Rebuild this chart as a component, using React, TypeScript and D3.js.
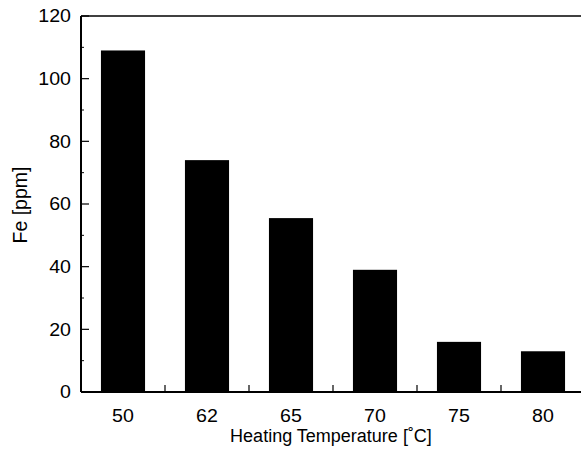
import React from "react";
import * as d3 from "d3";

const categories = ["50", "62", "65", "70", "75", "80"];
const values = [109, 74, 55.5, 39, 16, 13];
const yTicks = [0, 20, 40, 60, 80, 100, 120];
const yMinorTicks = [10, 30, 50, 70, 90, 110];

export default function App() {
  const W = 581, H = 454;
  const left = 81, top = 16, bottom = 392, right = 585;
  const x = d3.scaleBand<string>().domain(categories).range([left, right]).padding(0);
  const y = d3.scaleLinear().domain([0, 120]).range([bottom, top]);
  const bw = x.bandwidth() * 0.525;
  const font = "'Liberation Sans', Arial, Helvetica, sans-serif";
  const sep = categories.slice(1).map((c) => x(c) as number);
  const sx = 1.12;
  return (
    <svg width={W} height={H} style={{ position: "absolute", left: 0, top: 0 }}>
      <rect width={W} height={H} fill="#fff" />
      {categories.map((c, i) => {
        const cx = (x(c) as number) + x.bandwidth() / 2;
        return (
          <rect key={c} x={cx - bw / 2} y={y(values[i])} width={bw} height={bottom - y(values[i])} fill="#000" />
        );
      })}
      <line x1={left} x2={W} y1={top} y2={top} stroke="#000" strokeWidth={1.5} />
      <line x1={left} x2={left} y1={top} y2={bottom} stroke="#000" strokeWidth={2} />
      <line x1={left} x2={W} y1={bottom} y2={bottom} stroke="#000" strokeWidth={2} />
      {yTicks.map((t) => (
        <g key={t}>
          <line x1={left} x2={left + 8} y1={y(t)} y2={y(t)} stroke="#000" strokeWidth={1.2} />
          <text transform={`translate(71,${y(t)}) scale(${sx},1)`} dy="0.36em" textAnchor="end" fontFamily={font} fontSize={17.5}>{t}</text>
        </g>
      ))}
      {yMinorTicks.map((t) => (
        <line key={t} x1={left} x2={left + 3} y1={y(t)} y2={y(t)} stroke="#000" strokeWidth={1} />
      ))}
      {sep.map((s, i) => (
        <line key={i} x1={s} x2={s} y1={bottom} y2={bottom - 7} stroke="#000" strokeWidth={1.2} />
      ))}
      {categories.map((c) => (
        <text key={c} transform={`translate(${(x(c) as number) + x.bandwidth() / 2},421.5) scale(${sx},1)`} textAnchor="middle" fontFamily={font} fontSize={17.5}>{c}</text>
      ))}
      <text x={331} y={441.5} textAnchor="middle" fontFamily={font} fontSize={18}>Heating Temperature [˚C]</text>
      <text transform={`translate(27,205) rotate(-90)`} textAnchor="middle" fontFamily={font} fontSize={19.5}>Fe [ppm]</text>
    </svg>
  );
}
